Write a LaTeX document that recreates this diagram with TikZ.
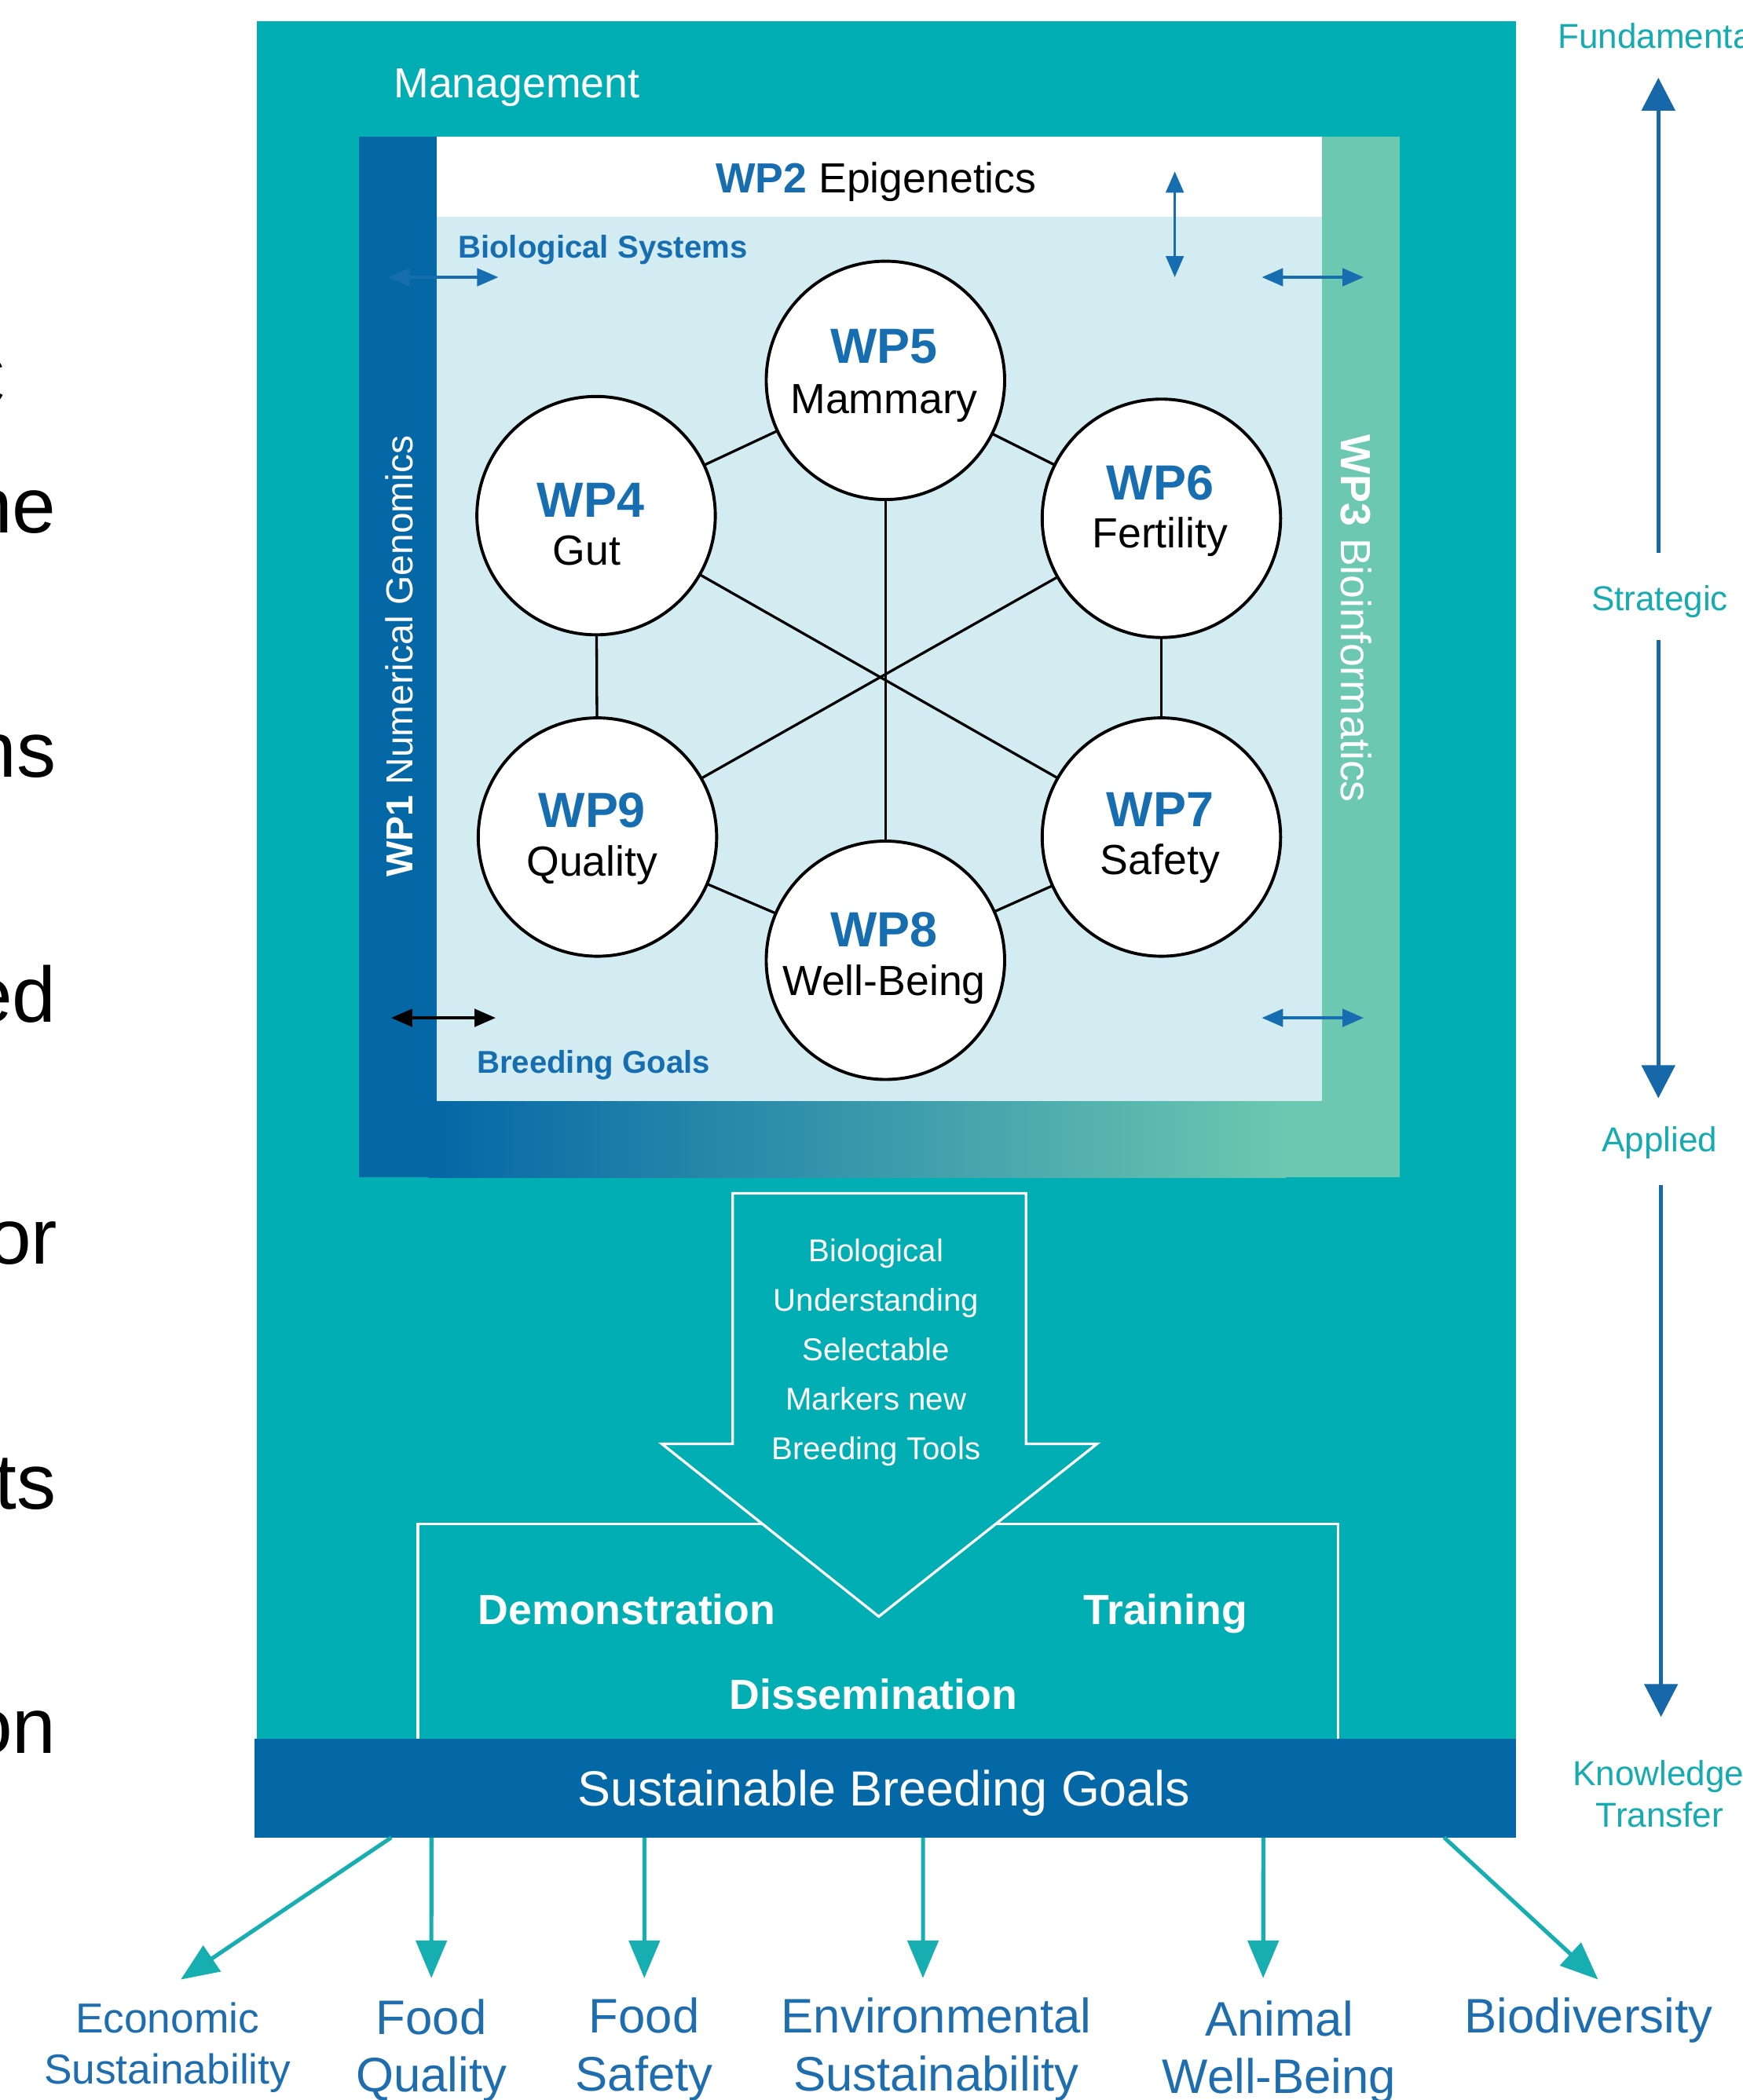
\documentclass[tikz,border=0pt]{standalone}
\usepackage{fontspec}
\setmainfont{Liberation Sans}
\usetikzlibrary{arrows.meta,calc}
\definecolor{mteal}{RGB}{0,174,179}
\definecolor{dkblue}{RGB}{4,103,166}
\definecolor{mgreen}{RGB}{108,200,176}
\definecolor{ltblue}{RGB}{211,236,241}
\definecolor{wpblue}{RGB}{22,110,177}
\definecolor{sideteal}{RGB}{22,170,177}
\definecolor{sideblue}{RGB}{23,104,168}
\definecolor{botteal}{RGB}{22,174,176}
\definecolor{botblue}{RGB}{30,110,175}
\newcommand\fsMain{\fontsize{17.9}{21.5}\selectfont}
\newcommand\fsWP{\fontsize{21}{25}\selectfont}
\newcommand\fsSmall{\fontsize{13.4}{21}\selectfont}
\newcommand\fsSide{\fontsize{14.7}{17.6}\selectfont}
\newcommand\fsBottom{\fontsize{20.6}{24.7}\selectfont}
\newcommand\fsEcon{\fontsize{17.8}{21.4}\selectfont}
\newcommand\fsBar{\fontsize{21}{25}\selectfont}
\newcommand\fsFrag{\fontsize{33.4}{40}\selectfont}
\newcommand\fsWPone{\fontsize{16}{19}\selectfont}
\begin{document}
\begin{tikzpicture}[x=0.02cm,y=-0.02cm,
  every node/.style={inner sep=0pt, outer sep=0pt},
  frag/.style={anchor=base east, font=\fsFrag, text=black},
  wpcirc/.style={circle, draw=black, line width=1.3pt, fill=white, minimum size=3.56cm},
  wpnum/.style={anchor=base, font=\fsWP\bfseries, text=wpblue},
  wpname/.style={anchor=base, font=\fsMain, text=black},
  linkline/.style={draw=black, line width=1.1pt},
  smallarr/.style={line width=1.2pt, {Triangle[length=9pt,width=7.5pt]}-{Triangle[length=9pt,width=7.5pt]}},
  sidearr/.style={draw=sideblue, line width=1.8pt, -{Triangle[length=14pt,width=14pt]}},
  sidelab/.style={anchor=base, font=\fsSide, text=sideteal},
  botarr/.style={draw=botteal, line width=1.7pt, -{Triangle[length=16pt,width=13pt]}},
  botlab/.style={anchor=base, font=\fsBottom, text=botblue},
  whitebold/.style={anchor=base, font=\fsMain\bfseries, text=white}]
\path[use as bounding box] (0,0) rectangle (1301,1568);
\clip (0,0) rectangle (1301,1568);
\fill[white] (0,0) rectangle (1301,1568);

% cut-off text on the left edge
\node[frag] (f0) at (4.3,305) {C};
\node[frag] (f1) at (42,398) {ne};
\node[frag] (f2) at (42,580) {ns};
\node[frag] (f3) at (42,763) {ed};
\node[frag] (f4) at (43,944) {or};
\node[frag] (f5) at (42,1127) {ts};
\node[frag] (f6) at (42,1309) {on};

% outer management frame
\fill[mteal] (192,16) rectangle (1132,1300);
\node[anchor=base west, font=\fsMain, text=white] (mgmt) at (294,73) {Management};

% inner frame
\fill[dkblue] (268,822) rectangle (320,879);
\shade[left color=dkblue, right color=mgreen] (320,822) rectangle (960,879);
\fill[mgreen] (959,822) rectangle (1045,879);
\fill[dkblue] (268,102) rectangle (326,822);
\fill[mgreen] (987,102) rectangle (1045,822);
\fill[white] (326,102) rectangle (987,162);
\fill[ltblue] (326,162) rectangle (987,822);

\node[anchor=base, font=\fsMain] (wp2) at (654,144) {{\bfseries\color{wpblue}WP2} Epigenetics};
\node[anchor=base, rotate=90, font=\fsWPone, text=white] (wp1) at (308,490) {\textbf{WP1} Numerical Genomics};
\node[anchor=base, rotate=-90, font=\fsMain, text=white] (wp3) at (1001,462) {\textbf{WP3} Bioinformatics};
\node[anchor=base west, font=\fsSmall\bfseries, text=wpblue] (biosys) at (342,192.5) {Biological Systems};
\node[anchor=base west, font=\fsSmall\bfseries, text=wpblue] (bgoals) at (356,801.5) {Breeding Goals};

% small arrows
\coordinate (a1) at (877,128); \coordinate (a2) at (877,207);
\draw[smallarr, draw=wpblue] (a1) -- (a2);
\coordinate (b1) at (290,207); \coordinate (b2) at (372,207);
\draw[smallarr, draw=wpblue] (b1) -- (b2);
\coordinate (c1) at (942,207); \coordinate (c2) at (1018,207);
\draw[smallarr, draw=wpblue] (c1) -- (c2);
\coordinate (d1) at (292,760); \coordinate (d2) at (370,760);
\draw[smallarr, draw=black] (d1) -- (d2);
\coordinate (e1) at (942,760); \coordinate (e2) at (1018,760);
\draw[smallarr, draw=wpblue] (e1) -- (e2);

% circles
\node[wpcirc] (wp5) at (661,284) {};
\node[wpcirc] (wp4) at (445,385) {};
\node[wpcirc] (wp6) at (867,387) {};
\node[wpcirc] (wp9) at (446,625) {};
\node[wpcirc] (wp7) at (867,625) {};
\node[wpcirc] (wp8) at (661,717) {};

\draw[linkline] (wp5) -- (wp4);
\draw[linkline] (wp5) -- (wp6);
\draw[linkline] (wp4) -- (wp9);
\draw[linkline] (wp6) -- (wp7);
\draw[linkline] (wp9) -- (wp8);
\draw[linkline] (wp7) -- (wp8);
\draw[linkline] (wp5) -- (wp8);
\draw[linkline] (wp4) -- (wp7);
\draw[linkline] (wp6) -- (wp9);

\node[wpnum] (n5) at (660,271) {WP5};
\node[wpname] (t5) at (660,309) {Mammary};
\node[wpnum] (n4) at (441,386) {WP4};
\node[wpname] (t4) at (438,422) {Gut};
\node[wpnum] (n6) at (866,373) {WP6};
\node[wpname] (t6) at (866,409) {Fertility};
\node[wpnum] (n9) at (442,618) {WP9};
\node[wpname] (t9) at (442,654) {Quality};
\node[wpnum] (n7) at (866,617) {WP7};
\node[wpname] (t7) at (866,653) {Safety};
\node[wpnum] (n8) at (660,707) {WP8};
\node[wpname] (t8) at (660,743) {Well-Being};

% lower box and big arrow
\draw[white, line width=1.1pt] (312,1300) -- (312,1138) -- (999,1138) -- (999,1300);
\filldraw[fill=mteal, draw=white, line width=1.1pt, line join=miter]
  (547,891) -- (766,891) -- (766,1078) -- (819,1078) -- (656,1207) -- (494,1078) -- (547,1078) -- cycle;
\node[align=center, font=\fsSmall, text=white] (bigtext) at (654,1010)
  {Biological\\Understanding\\Selectable\\Markers new\\Breeding Tools};
\node[whitebold] (demo) at (468,1213) {Demonstration};
\node[whitebold] (train) at (870,1213) {Training};
\node[whitebold] (diss) at (652,1276) {Dissemination};

% bar
\node[fill=dkblue, minimum width=18.84cm, minimum height=1.48cm] (bar) at (661,1335) {};
\node[anchor=base, font=\fsBar, text=white] (bartext) at (660,1348.6) {Sustainable Breeding Goals};

% right-hand scale
\node[anchor=base west, font=\fsSide, text=sideteal] (fund) at (1163,36) {Fundamental};
\node[sidelab] (strat) at (1239,456) {Strategic};
\node[sidelab] (appl) at (1239,860) {Applied};
\node[sidelab] (know) at (1238,1333) {Knowledge};
\node[sidelab] (transf) at (1239,1364) {Transfer};
\coordinate (s1a) at (1238,413); \coordinate (s1b) at (1238,58);
\coordinate (s2a) at (1238,478); \coordinate (s2b) at (1238,820);
\coordinate (s3a) at (1240,885); \coordinate (s3b) at (1240,1282);
\draw[sidearr] (s1a) -- (s1b);
\draw[sidearr] (s2a) -- (s2b);
\draw[sidearr] (s3a) -- (s3b);

% bottom outputs
\node[anchor=base, font=\fsEcon, text=botblue] (econ1) at (125,1518) {Economic};
\node[anchor=base, font=\fsEcon, text=botblue] (econ2) at (125,1556) {Sustainability};
\node[botlab] (fq1) at (322,1519) {Food};
\node[botlab] (fq2) at (322,1562) {Quality};
\node[botlab] (fs1) at (481,1518) {Food};
\node[botlab] (fs2) at (481,1561) {Safety};
\node[botlab] (env1) at (699,1518) {Environmental};
\node[botlab] (env2) at (699,1561) {Sustainability};
\node[botlab] (an1) at (955,1520) {Animal};
\node[botlab] (an2) at (955,1563) {Well-Being};
\node[botlab] (bio) at (1186,1518) {Biodiversity};

\coordinate (g1) at (135,1478);
\coordinate (g2) at (322,1477);
\coordinate (g3) at (481,1477);
\coordinate (g4) at (689,1477);
\coordinate (g5) at (943,1477);
\coordinate (g6) at (1193,1478);
\draw[botarr] ($(bar.south west)+(102,0)$) -- (g1);
\draw[botarr] ($(bar.south west)+(132,0)$) -- (g2);
\draw[botarr] ($(bar.south west)+(291,0)$) -- (g3);
\draw[botarr] ($(bar.south west)+(499,0)$) -- (g4);
\draw[botarr] ($(bar.south west)+(753,0)$) -- (g5);
\draw[botarr] ($(bar.south west)+(888,0)$) -- (g6);
\end{tikzpicture}
\end{document}
